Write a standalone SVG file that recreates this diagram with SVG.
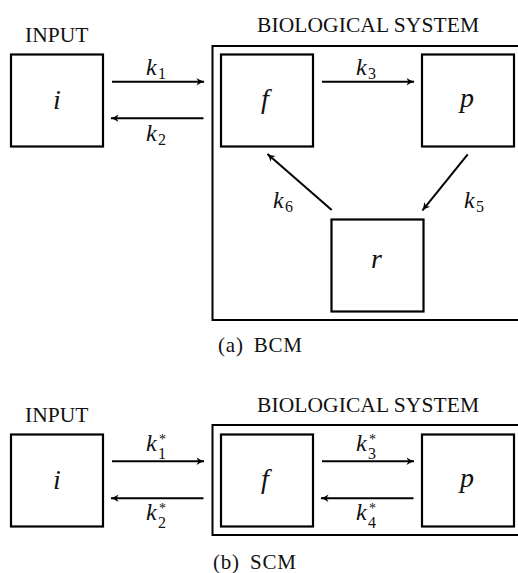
<svg xmlns="http://www.w3.org/2000/svg" width="518" height="573" viewBox="0 0 518 573">
<style>
.box{fill:none;stroke:#000;stroke-width:2.2}
.frame{fill:none;stroke:#000;stroke-width:2}
.arr{stroke:#000;stroke-width:2;fill:none;marker-end:url(#ah)}
.lbl{font-family:"Liberation Serif","DejaVu Serif",serif;font-size:21.5px;fill:#111}
.var{font-family:"Liberation Serif","DejaVu Serif",serif;font-style:italic;font-size:28px;fill:#111}
.k{font-family:"Liberation Serif","DejaVu Serif",serif;font-style:italic;font-size:24px;fill:#111}
.sub{font-style:normal;font-size:16px}
.star{font-style:normal;font-size:14px}
.cap{font-family:"Liberation Serif","DejaVu Serif",serif;font-size:21px;fill:#111;letter-spacing:0.8px;word-spacing:4px}
</style>
<defs>
<marker id="ah" markerWidth="10" markerHeight="10" refX="8" refY="5" orient="auto" markerUnits="userSpaceOnUse">
<path d="M0.5,1.2 Q5,4.2 8.5,5 Q5,5.8 0.5,8.8 L2.5,5 Z" fill="#000"/>
</marker>
</defs>

<!-- (a) BCM -->
<g id="a-input">
<text class="lbl" x="25" y="41.5">INPUT</text>
<rect class="box" x="11" y="54.5" width="92" height="92"/>
<text class="var" x="53" y="109">i</text>
</g>
<g id="a-system">
<text class="lbl" x="257" y="32" textLength="222">BIOLOGICAL SYSTEM</text>
<rect class="frame" x="212.5" y="46" width="330" height="274"/>
</g>
<g id="a-f">
<rect class="box" x="221" y="54.5" width="92" height="92"/>
<text class="var" x="261" y="108">f</text>
</g>
<g id="a-p">
<rect class="box" x="422" y="54.5" width="92" height="92"/>
<text class="var" x="460" y="107">p</text>
</g>
<g id="a-r">
<rect class="box" x="331.5" y="219.5" width="92" height="92"/>
<text class="var" x="371" y="268">r</text>
</g>
<g id="a-connectors">
<line class="arr" x1="112" y1="81.7" x2="204" y2="81.7"/>
<line class="arr" x1="203.5" y1="118.3" x2="111" y2="118.3"/>
<line class="arr" x1="322" y1="81.7" x2="414" y2="81.7"/>
<line class="arr" x1="467.7" y1="154.3" x2="422.5" y2="210.3"/>
<line class="arr" x1="331.7" y1="210" x2="267.5" y2="154"/>
<text class="k" x="146" y="75">k<tspan class="sub" x="158" y="79">1</tspan></text>
<text class="k" x="146" y="141">k<tspan class="sub" x="158" y="145">2</tspan></text>
<text class="k" x="356" y="75">k<tspan class="sub" x="368" y="79">3</tspan></text>
<text class="k" x="464" y="207.5">k<tspan class="sub" x="476" y="211.5">5</tspan></text>
<text class="k" x="273" y="207.5">k<tspan class="sub" x="285" y="211.5">6</tspan></text>
</g>
<text class="cap" x="218" y="352">(a) BCM</text>

<!-- (b) SCM -->
<g id="b-input">
<text class="lbl" x="25" y="421.5">INPUT</text>
<rect class="box" x="11" y="434.5" width="92" height="92"/>
<text class="var" x="53" y="489">i</text>
</g>
<g id="b-system">
<text class="lbl" x="257" y="412" textLength="222">BIOLOGICAL SYSTEM</text>
<rect class="frame" x="212.5" y="425" width="330" height="110"/>
</g>
<g id="b-f">
<rect class="box" x="221" y="434.5" width="92" height="92"/>
<text class="var" x="261" y="488">f</text>
</g>
<g id="b-p">
<rect class="box" x="422" y="434.5" width="92" height="92"/>
<text class="var" x="460" y="487">p</text>
</g>
<g id="b-connectors">
<line class="arr" x1="112" y1="461.3" x2="204" y2="461.3"/>
<line class="arr" x1="203.5" y1="498.3" x2="111" y2="498.3"/>
<line class="arr" x1="322" y1="461.3" x2="414" y2="461.3"/>
<line class="arr" x1="413.5" y1="498.3" x2="321" y2="498.3"/>
<text class="k" x="146" y="451">k<tspan class="star" x="159" y="443.5">*</tspan><tspan class="sub" x="158" y="459">1</tspan></text>
<text class="k" x="146" y="520">k<tspan class="star" x="159" y="512.5">*</tspan><tspan class="sub" x="158" y="528">2</tspan></text>
<text class="k" x="356" y="451">k<tspan class="star" x="369" y="443.5">*</tspan><tspan class="sub" x="368" y="459">3</tspan></text>
<text class="k" x="356" y="520">k<tspan class="star" x="369" y="512.5">*</tspan><tspan class="sub" x="368" y="528">4</tspan></text>
</g>
<text class="cap" x="213" y="569">(b) SCM</text>
</svg>
